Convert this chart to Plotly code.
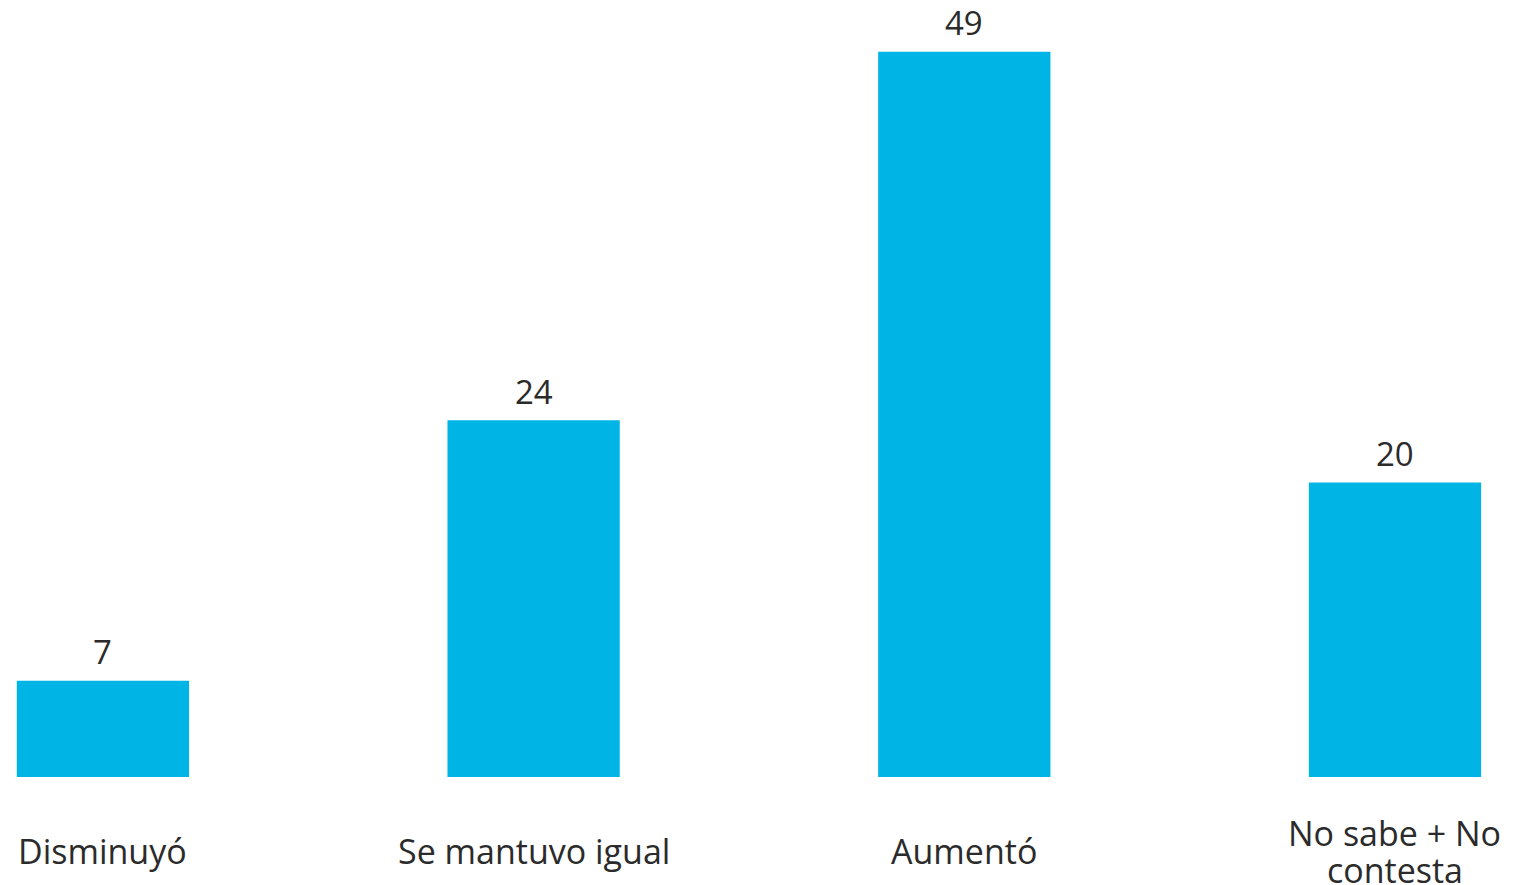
import plotly.graph_objects as go

categories = ["Disminuyó", "Se mantuvo igual", "Aumentó", "No sabe + No<br>contesta"]
values = [6.5, 24.1, 49, 19.9]
value_labels = ["7", "24", "49", "20"]

FONT = "Open Sans"
TEXT_COLOR = "#2b2b2b"
BAR_COLOR = "#00B5E6"
FS = 34

fig = go.Figure()
fig.add_trace(go.Bar(
    x=categories,
    y=values,
    width=0.4,
    marker=dict(color=BAR_COLOR, line=dict(width=0)),
    hoverinfo="skip",
))

annotations = []
for c, v, lab in zip(categories, values, value_labels):
    annotations.append(dict(
        x=c, y=v, xref="x", yref="y", text=lab, showarrow=False,
        yanchor="middle", yshift=29,
        font=dict(family=FONT, size=FS - 1, color=TEXT_COLOR),
    ))
    lines = c.split("<br>")
    n = len(lines)
    for i, line in enumerate(lines):
        shift = -74 - (i - (n - 1) / 2) * 37
        annotations.append(dict(
            x=c, y=0, xref="x", yref="paper", text=line, showarrow=False,
            yanchor="middle", yshift=shift,
            font=dict(family=FONT, size=FS, color=TEXT_COLOR),
        ))

fig.update_layout(
    width=1516,
    height=885,
    margin=dict(l=0, r=0, t=0, b=108),
    paper_bgcolor="white",
    plot_bgcolor="white",
    showlegend=False,
    annotations=annotations,
    xaxis=dict(type="category", range=[-0.239, 3.281], showticklabels=False,
               showgrid=False, zeroline=False, showline=False, ticks=""),
    yaxis=dict(range=[0, 52.5], visible=False, showgrid=False, zeroline=False),
)

fig.write_html(
    "out.html",
    config={"displayModeBar": False},
    post_script="document.body.style.margin='0';document.body.style.overflow='hidden';",
)
